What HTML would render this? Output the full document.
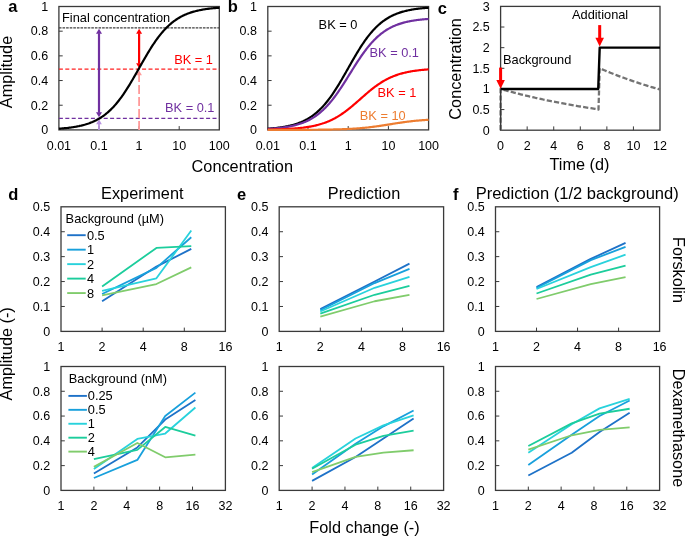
<!DOCTYPE html>
<html><head><meta charset="utf-8"><style>
html,body{margin:0;padding:0;background:#fff;overflow:hidden;}
svg{display:block;font-family:"Liberation Sans", sans-serif;will-change:transform;}
</style></head><body>
<svg width="685" height="537" viewBox="0 0 685 537">
<rect width="685" height="537" fill="#fff"/>
<rect x="58.90" y="6.50" width="160.40" height="123.40" fill="none" stroke="#3a3a3a" stroke-width="1.3"/>
<line x1="58.90" y1="27.90" x2="219.30" y2="27.90" stroke="#404040" stroke-width="1.4" stroke-dasharray="2.6,1.0"/>
<line x1="58.90" y1="69.20" x2="219.30" y2="69.20" stroke="#ff2020" stroke-width="1.3" stroke-dasharray="4,2.4"/>
<line x1="58.90" y1="118.30" x2="219.30" y2="118.30" stroke="#7030a0" stroke-width="1.3" stroke-dasharray="4,2.4"/>
<text x="48.10" y="134.20" font-size="12.5" text-anchor="end" fill="#000" >0</text>
<line x1="58.90" y1="105.22" x2="62.70" y2="105.22" stroke="#3a3a3a" stroke-width="1" />
<text x="48.10" y="109.52" font-size="12.5" text-anchor="end" fill="#000" >0.2</text>
<line x1="58.90" y1="80.54" x2="62.70" y2="80.54" stroke="#3a3a3a" stroke-width="1" />
<text x="48.10" y="84.84" font-size="12.5" text-anchor="end" fill="#000" >0.4</text>
<line x1="58.90" y1="55.86" x2="62.70" y2="55.86" stroke="#3a3a3a" stroke-width="1" />
<text x="48.10" y="60.16" font-size="12.5" text-anchor="end" fill="#000" >0.6</text>
<line x1="58.90" y1="31.18" x2="62.70" y2="31.18" stroke="#3a3a3a" stroke-width="1" />
<text x="48.10" y="35.48" font-size="12.5" text-anchor="end" fill="#000" >0.8</text>
<text x="48.10" y="10.80" font-size="12.5" text-anchor="end" fill="#000" >1</text>
<text x="58.90" y="149.50" font-size="12.5" text-anchor="middle" fill="#000" >0.01</text>
<line x1="99.00" y1="129.90" x2="99.00" y2="126.10" stroke="#3a3a3a" stroke-width="1" />
<text x="99.00" y="149.50" font-size="12.5" text-anchor="middle" fill="#000" >0.1</text>
<line x1="139.10" y1="129.90" x2="139.10" y2="126.10" stroke="#3a3a3a" stroke-width="1" />
<text x="139.10" y="149.50" font-size="12.5" text-anchor="middle" fill="#000" >1</text>
<line x1="179.20" y1="129.90" x2="179.20" y2="126.10" stroke="#3a3a3a" stroke-width="1" />
<text x="179.20" y="149.50" font-size="12.5" text-anchor="middle" fill="#000" >10</text>
<text x="219.30" y="149.50" font-size="12.5" text-anchor="middle" fill="#000" >100</text>
<line x1="139.10" y1="129.90" x2="139.10" y2="74.20" stroke="#ff9a9a" stroke-width="1.8" stroke-dasharray="9,3"/>
<polygon points="139.10,70.40 136.30,75.20 141.90,75.20" fill="#ff9a9a"/>
<line x1="99.00" y1="129.90" x2="99.00" y2="123.80" stroke="#b894e0" stroke-width="1.8" />
<polygon points="99.00,119.30 96.20,124.30 101.80,124.30" fill="#b894e0"/>
<line x1="139.10" y1="33.20" x2="139.10" y2="63.70" stroke="#ff0000" stroke-width="2.2" />
<polygon points="139.10,28.70 136.10,33.70 142.10,33.70" fill="#ff0000"/>
<polygon points="139.10,68.20 136.10,63.20 142.10,63.20" fill="#ff0000"/>
<line x1="99.00" y1="33.20" x2="99.00" y2="112.80" stroke="#7030a0" stroke-width="2.2" />
<polygon points="99.00,28.70 96.00,33.70 102.00,33.70" fill="#7030a0"/>
<polygon points="99.00,117.30 96.00,112.30 102.00,112.30" fill="#7030a0"/>
<polyline points="58.90,128.68 59.70,128.62 60.50,128.56 61.31,128.50 62.11,128.43 62.91,128.37 63.71,128.29 64.51,128.22 65.32,128.14 66.12,128.06 66.92,127.97 67.72,127.89 68.52,127.79 69.33,127.69 70.13,127.59 70.93,127.49 71.73,127.37 72.53,127.26 73.34,127.14 74.14,127.01 74.94,126.88 75.74,126.74 76.54,126.59 77.35,126.44 78.15,126.28 78.95,126.12 79.75,125.94 80.55,125.76 81.36,125.58 82.16,125.38 82.96,125.18 83.76,124.96 84.56,124.74 85.37,124.51 86.17,124.26 86.97,124.01 87.77,123.75 88.57,123.47 89.38,123.19 90.18,122.89 90.98,122.58 91.78,122.25 92.58,121.92 93.39,121.56 94.19,121.20 94.99,120.82 95.79,120.42 96.59,120.01 97.40,119.59 98.20,119.14 99.00,118.68 99.80,118.20 100.60,117.71 101.41,117.19 102.21,116.66 103.01,116.10 103.81,115.53 104.61,114.93 105.42,114.32 106.22,113.68 107.02,113.02 107.82,112.34 108.62,111.63 109.43,110.90 110.23,110.15 111.03,109.37 111.83,108.57 112.63,107.75 113.44,106.90 114.24,106.03 115.04,105.13 115.84,104.20 116.64,103.25 117.45,102.28 118.25,101.28 119.05,100.25 119.85,99.20 120.65,98.13 121.46,97.03 122.26,95.91 123.06,94.76 123.86,93.59 124.66,92.40 125.47,91.19 126.27,89.96 127.07,88.70 127.87,87.43 128.67,86.14 129.48,84.83 130.28,83.50 131.08,82.16 131.88,80.81 132.68,79.44 133.49,78.06 134.29,76.67 135.09,75.27 135.89,73.87 136.69,72.46 137.50,71.04 138.30,69.62 139.10,68.20 139.90,66.78 140.70,65.36 141.51,63.94 142.31,62.53 143.11,61.13 143.91,59.73 144.71,58.34 145.52,56.96 146.32,55.59 147.12,54.24 147.92,52.90 148.72,51.57 149.53,50.26 150.33,48.97 151.13,47.70 151.93,46.44 152.73,45.21 153.54,44.00 154.34,42.81 155.14,41.64 155.94,40.49 156.74,39.37 157.55,38.27 158.35,37.20 159.15,36.15 159.95,35.12 160.75,34.12 161.56,33.15 162.36,32.20 163.16,31.27 163.96,30.37 164.76,29.50 165.57,28.65 166.37,27.83 167.17,27.03 167.97,26.25 168.77,25.50 169.58,24.77 170.38,24.06 171.18,23.38 171.98,22.72 172.78,22.08 173.59,21.47 174.39,20.87 175.19,20.30 175.99,19.74 176.79,19.21 177.60,18.69 178.40,18.20 179.20,17.72 180.00,17.26 180.80,16.81 181.61,16.39 182.41,15.98 183.21,15.58 184.01,15.20 184.81,14.84 185.62,14.48 186.42,14.15 187.22,13.82 188.02,13.51 188.82,13.21 189.63,12.93 190.43,12.65 191.23,12.39 192.03,12.14 192.83,11.89 193.64,11.66 194.44,11.44 195.24,11.22 196.04,11.02 196.84,10.82 197.65,10.64 198.45,10.46 199.25,10.28 200.05,10.12 200.85,9.96 201.66,9.81 202.46,9.66 203.26,9.52 204.06,9.39 204.86,9.26 205.67,9.14 206.47,9.03 207.27,8.91 208.07,8.81 208.87,8.71 209.68,8.61 210.48,8.51 211.28,8.43 212.08,8.34 212.88,8.26 213.69,8.18 214.49,8.11 215.29,8.03 216.09,7.97 216.89,7.90 217.70,7.84 218.50,7.78 219.30,7.72" fill="none" stroke="#000" stroke-width="2.2" stroke-linejoin="round" />
<text x="62.00" y="22.00" font-size="12.8" text-anchor="start" fill="#000" >Final concentration</text>
<text x="213.00" y="64.40" font-size="12.8" text-anchor="end" fill="#ff0000" >BK = 1</text>
<text x="214.50" y="112.00" font-size="12.8" text-anchor="end" fill="#7030a0" >BK = 0.1</text>
<text x="8.20" y="11.50" font-size="16.5" text-anchor="start" fill="#000" font-weight="bold" >a</text>
<text x="12.00" y="72.00" font-size="16.3" text-anchor="middle" fill="#000" transform="rotate(-90 12 72)">Amplitude</text>
<rect x="267.80" y="6.50" width="160.80" height="123.40" fill="none" stroke="#3a3a3a" stroke-width="1.3"/>
<text x="257.00" y="134.20" font-size="12.5" text-anchor="end" fill="#000" >0</text>
<line x1="267.80" y1="105.22" x2="271.60" y2="105.22" stroke="#3a3a3a" stroke-width="1" />
<text x="257.00" y="109.52" font-size="12.5" text-anchor="end" fill="#000" >0.2</text>
<line x1="267.80" y1="80.54" x2="271.60" y2="80.54" stroke="#3a3a3a" stroke-width="1" />
<text x="257.00" y="84.84" font-size="12.5" text-anchor="end" fill="#000" >0.4</text>
<line x1="267.80" y1="55.86" x2="271.60" y2="55.86" stroke="#3a3a3a" stroke-width="1" />
<text x="257.00" y="60.16" font-size="12.5" text-anchor="end" fill="#000" >0.6</text>
<line x1="267.80" y1="31.18" x2="271.60" y2="31.18" stroke="#3a3a3a" stroke-width="1" />
<text x="257.00" y="35.48" font-size="12.5" text-anchor="end" fill="#000" >0.8</text>
<text x="257.00" y="10.80" font-size="12.5" text-anchor="end" fill="#000" >1</text>
<text x="267.80" y="149.50" font-size="12.5" text-anchor="middle" fill="#000" >0.01</text>
<line x1="308.00" y1="129.90" x2="308.00" y2="126.10" stroke="#3a3a3a" stroke-width="1" />
<text x="308.00" y="149.50" font-size="12.5" text-anchor="middle" fill="#000" >0.1</text>
<line x1="348.20" y1="129.90" x2="348.20" y2="126.10" stroke="#3a3a3a" stroke-width="1" />
<text x="348.20" y="149.50" font-size="12.5" text-anchor="middle" fill="#000" >1</text>
<line x1="388.40" y1="129.90" x2="388.40" y2="126.10" stroke="#3a3a3a" stroke-width="1" />
<text x="388.40" y="149.50" font-size="12.5" text-anchor="middle" fill="#000" >10</text>
<text x="428.60" y="149.50" font-size="12.5" text-anchor="middle" fill="#000" >100</text>
<polyline points="267.80,128.68 268.60,128.62 269.41,128.56 270.21,128.50 271.02,128.43 271.82,128.37 272.62,128.29 273.43,128.22 274.23,128.14 275.04,128.06 275.84,127.97 276.64,127.89 277.45,127.79 278.25,127.69 279.06,127.59 279.86,127.49 280.66,127.37 281.47,127.26 282.27,127.14 283.08,127.01 283.88,126.88 284.68,126.74 285.49,126.59 286.29,126.44 287.10,126.28 287.90,126.12 288.70,125.94 289.51,125.76 290.31,125.58 291.12,125.38 291.92,125.18 292.72,124.96 293.53,124.74 294.33,124.51 295.14,124.26 295.94,124.01 296.74,123.75 297.55,123.47 298.35,123.19 299.16,122.89 299.96,122.58 300.76,122.25 301.57,121.92 302.37,121.56 303.18,121.20 303.98,120.82 304.78,120.42 305.59,120.01 306.39,119.59 307.20,119.14 308.00,118.68 308.80,118.20 309.61,117.71 310.41,117.19 311.22,116.66 312.02,116.10 312.82,115.53 313.63,114.93 314.43,114.32 315.24,113.68 316.04,113.02 316.84,112.34 317.65,111.63 318.45,110.90 319.26,110.15 320.06,109.37 320.86,108.57 321.67,107.75 322.47,106.90 323.28,106.03 324.08,105.13 324.88,104.20 325.69,103.25 326.49,102.28 327.30,101.28 328.10,100.25 328.90,99.20 329.71,98.13 330.51,97.03 331.32,95.91 332.12,94.76 332.92,93.59 333.73,92.40 334.53,91.19 335.34,89.96 336.14,88.70 336.94,87.43 337.75,86.14 338.55,84.83 339.36,83.50 340.16,82.16 340.96,80.81 341.77,79.44 342.57,78.06 343.38,76.67 344.18,75.27 344.98,73.87 345.79,72.46 346.59,71.04 347.40,69.62 348.20,68.20 349.00,66.78 349.81,65.36 350.61,63.94 351.42,62.53 352.22,61.13 353.02,59.73 353.83,58.34 354.63,56.96 355.44,55.59 356.24,54.24 357.04,52.90 357.85,51.57 358.65,50.26 359.46,48.97 360.26,47.70 361.06,46.44 361.87,45.21 362.67,44.00 363.48,42.81 364.28,41.64 365.08,40.49 365.89,39.37 366.69,38.27 367.50,37.20 368.30,36.15 369.10,35.12 369.91,34.12 370.71,33.15 371.52,32.20 372.32,31.27 373.12,30.37 373.93,29.50 374.73,28.65 375.54,27.83 376.34,27.03 377.14,26.25 377.95,25.50 378.75,24.77 379.56,24.06 380.36,23.38 381.16,22.72 381.97,22.08 382.77,21.47 383.58,20.87 384.38,20.30 385.18,19.74 385.99,19.21 386.79,18.69 387.60,18.20 388.40,17.72 389.20,17.26 390.01,16.81 390.81,16.39 391.62,15.98 392.42,15.58 393.22,15.20 394.03,14.84 394.83,14.48 395.64,14.15 396.44,13.82 397.24,13.51 398.05,13.21 398.85,12.93 399.66,12.65 400.46,12.39 401.26,12.14 402.07,11.89 402.87,11.66 403.68,11.44 404.48,11.22 405.28,11.02 406.09,10.82 406.89,10.64 407.70,10.46 408.50,10.28 409.30,10.12 410.11,9.96 410.91,9.81 411.72,9.66 412.52,9.52 413.32,9.39 414.13,9.26 414.93,9.14 415.74,9.03 416.54,8.91 417.34,8.81 418.15,8.71 418.95,8.61 419.76,8.51 420.56,8.43 421.36,8.34 422.17,8.26 422.97,8.18 423.78,8.11 424.58,8.03 425.38,7.97 426.19,7.90 426.99,7.84 427.80,7.78 428.60,7.72" fill="none" stroke="#000" stroke-width="2.2" stroke-linejoin="round" />
<polyline points="267.80,128.89 268.60,128.84 269.41,128.79 270.21,128.74 271.02,128.69 271.82,128.63 272.62,128.57 273.43,128.51 274.23,128.45 275.04,128.38 275.84,128.31 276.64,128.23 277.45,128.16 278.25,128.07 279.06,127.99 279.86,127.90 280.66,127.81 281.47,127.71 282.27,127.61 283.08,127.51 283.88,127.40 284.68,127.28 285.49,127.16 286.29,127.03 287.10,126.90 287.90,126.77 288.70,126.62 289.51,126.47 290.31,126.32 291.12,126.15 291.92,125.98 292.72,125.80 293.53,125.62 294.33,125.42 295.14,125.22 295.94,125.01 296.74,124.79 297.55,124.56 298.35,124.32 299.16,124.07 299.96,123.81 300.76,123.54 301.57,123.26 302.37,122.97 303.18,122.66 303.98,122.34 304.78,122.01 305.59,121.67 306.39,121.31 307.20,120.94 308.00,120.55 308.80,120.15 309.61,119.73 310.41,119.30 311.22,118.85 312.02,118.38 312.82,117.89 313.63,117.39 314.43,116.87 315.24,116.33 316.04,115.77 316.84,115.19 317.65,114.60 318.45,113.98 319.26,113.34 320.06,112.68 320.86,111.99 321.67,111.29 322.47,110.56 323.28,109.82 324.08,109.05 324.88,108.25 325.69,107.44 326.49,106.60 327.30,105.74 328.10,104.85 328.90,103.94 329.71,103.01 330.51,102.06 331.32,101.09 332.12,100.09 332.92,99.07 333.73,98.03 334.53,96.97 335.34,95.89 336.14,94.79 336.94,93.67 337.75,92.53 338.55,91.37 339.36,90.20 340.16,89.01 340.96,87.80 341.77,86.59 342.57,85.36 343.38,84.11 344.18,82.86 344.98,81.60 345.79,80.33 346.59,79.05 347.40,77.77 348.20,76.48 349.00,75.19 349.81,73.90 350.61,72.61 351.42,71.32 352.22,70.03 353.02,68.75 353.83,67.47 354.63,66.20 355.44,64.93 356.24,63.68 357.04,62.44 357.85,61.20 358.65,59.98 359.46,58.78 360.26,57.59 361.06,56.41 361.87,55.25 362.67,54.11 363.48,52.99 364.28,51.88 365.08,50.80 365.89,49.73 366.69,48.69 367.50,47.67 368.30,46.67 369.10,45.69 369.91,44.74 370.71,43.80 371.52,42.89 372.32,42.00 373.12,41.14 373.93,40.30 374.73,39.48 375.54,38.68 376.34,37.91 377.14,37.16 377.95,36.43 378.75,35.72 379.56,35.04 380.36,34.37 381.16,33.73 381.97,33.11 382.77,32.51 383.58,31.93 384.38,31.36 385.18,30.82 385.99,30.30 386.79,29.79 387.60,29.31 388.40,28.84 389.20,28.38 390.01,27.95 390.81,27.53 391.62,27.12 392.42,26.73 393.22,26.36 394.03,26.00 394.83,25.65 395.64,25.32 396.44,25.00 397.24,24.69 398.05,24.40 398.85,24.11 399.66,23.84 400.46,23.58 401.26,23.33 402.07,23.09 402.87,22.86 403.68,22.64 404.48,22.42 405.28,22.22 406.09,22.03 406.89,21.84 407.70,21.66 408.50,21.49 409.30,21.32 410.11,21.17 410.91,21.02 411.72,20.87 412.52,20.73 413.32,20.60 414.13,20.48 414.93,20.35 415.74,20.24 416.54,20.13 417.34,20.02 418.15,19.92 418.95,19.82 419.76,19.73 420.56,19.64 421.36,19.56 422.17,19.47 422.97,19.40 423.78,19.32 424.58,19.25 425.38,19.18 426.19,19.12 426.99,19.06 427.80,19.00 428.60,18.94" fill="none" stroke="#7030a0" stroke-width="2.2" stroke-linejoin="round" />
<polyline points="267.80,129.59 268.60,129.58 269.41,129.56 270.21,129.55 271.02,129.53 271.82,129.51 272.62,129.50 273.43,129.48 274.23,129.46 275.04,129.44 275.84,129.41 276.64,129.39 277.45,129.37 278.25,129.34 279.06,129.32 279.86,129.29 280.66,129.26 281.47,129.23 282.27,129.20 283.08,129.17 283.88,129.13 284.68,129.10 285.49,129.06 286.29,129.02 287.10,128.98 287.90,128.94 288.70,128.90 289.51,128.85 290.31,128.80 291.12,128.75 291.92,128.70 292.72,128.64 293.53,128.58 294.33,128.52 295.14,128.46 295.94,128.39 296.74,128.32 297.55,128.25 298.35,128.17 299.16,128.10 299.96,128.01 300.76,127.93 301.57,127.84 302.37,127.74 303.18,127.65 303.98,127.54 304.78,127.44 305.59,127.33 306.39,127.21 307.20,127.09 308.00,126.96 308.80,126.83 309.61,126.69 310.41,126.55 311.22,126.40 312.02,126.25 312.82,126.08 313.63,125.92 314.43,125.74 315.24,125.56 316.04,125.37 316.84,125.17 317.65,124.97 318.45,124.75 319.26,124.53 320.06,124.30 320.86,124.06 321.67,123.82 322.47,123.56 323.28,123.29 324.08,123.02 324.88,122.73 325.69,122.43 326.49,122.12 327.30,121.81 328.10,121.48 328.90,121.14 329.71,120.78 330.51,120.42 331.32,120.04 332.12,119.66 332.92,119.26 333.73,118.85 334.53,118.42 335.34,117.99 336.14,117.54 336.94,117.08 337.75,116.60 338.55,116.11 339.36,115.61 340.16,115.10 340.96,114.58 341.77,114.04 342.57,113.49 343.38,112.93 344.18,112.36 344.98,111.78 345.79,111.18 346.59,110.58 347.40,109.96 348.20,109.33 349.00,108.70 349.81,108.05 350.61,107.40 351.42,106.74 352.22,106.07 353.02,105.39 353.83,104.70 354.63,104.02 355.44,103.32 356.24,102.62 357.04,101.92 357.85,101.21 358.65,100.51 359.46,99.80 360.26,99.09 361.06,98.38 361.87,97.67 362.67,96.96 363.48,96.25 364.28,95.55 365.08,94.85 365.89,94.16 366.69,93.47 367.50,92.78 368.30,92.10 369.10,91.43 369.91,90.77 370.71,90.12 371.52,89.47 372.32,88.83 373.12,88.20 373.93,87.59 374.73,86.98 375.54,86.38 376.34,85.80 377.14,85.23 377.95,84.66 378.75,84.11 379.56,83.58 380.36,83.05 381.16,82.54 381.97,82.04 382.77,81.55 383.58,81.07 384.38,80.61 385.18,80.16 385.99,79.72 386.79,79.30 387.60,78.88 388.40,78.48 389.20,78.09 390.01,77.72 390.81,77.35 391.62,77.00 392.42,76.66 393.22,76.33 394.03,76.01 394.83,75.70 395.64,75.40 396.44,75.11 397.24,74.84 398.05,74.57 398.85,74.31 399.66,74.06 400.46,73.82 401.26,73.59 402.07,73.37 402.87,73.15 403.68,72.95 404.48,72.75 405.28,72.56 406.09,72.38 406.89,72.20 407.70,72.03 408.50,71.87 409.30,71.71 410.11,71.56 410.91,71.42 411.72,71.28 412.52,71.15 413.32,71.02 414.13,70.90 414.93,70.79 415.74,70.67 416.54,70.57 417.34,70.47 418.15,70.37 418.95,70.27 419.76,70.18 420.56,70.10 421.36,70.01 422.17,69.93 422.97,69.86 423.78,69.78 424.58,69.72 425.38,69.65 426.19,69.59 426.99,69.52 427.80,69.47 428.60,69.41" fill="none" stroke="#ff0000" stroke-width="2.2" stroke-linejoin="round" />
<polyline points="267.80,129.89 268.60,129.89 269.41,129.89 270.21,129.89 271.02,129.89 271.82,129.89 272.62,129.89 273.43,129.89 274.23,129.89 275.04,129.88 275.84,129.88 276.64,129.88 277.45,129.88 278.25,129.88 279.06,129.88 279.86,129.88 280.66,129.88 281.47,129.88 282.27,129.88 283.08,129.88 283.88,129.87 284.68,129.87 285.49,129.87 286.29,129.87 287.10,129.87 287.90,129.87 288.70,129.87 289.51,129.86 290.31,129.86 291.12,129.86 291.92,129.86 292.72,129.86 293.53,129.86 294.33,129.85 295.14,129.85 295.94,129.85 296.74,129.85 297.55,129.84 298.35,129.84 299.16,129.84 299.96,129.84 300.76,129.83 301.57,129.83 302.37,129.83 303.18,129.82 303.98,129.82 304.78,129.82 305.59,129.81 306.39,129.81 307.20,129.80 308.00,129.80 308.80,129.79 309.61,129.79 310.41,129.78 311.22,129.78 312.02,129.77 312.82,129.77 313.63,129.76 314.43,129.75 315.24,129.75 316.04,129.74 316.84,129.73 317.65,129.73 318.45,129.72 319.26,129.71 320.06,129.70 320.86,129.69 321.67,129.68 322.47,129.67 323.28,129.66 324.08,129.65 324.88,129.64 325.69,129.63 326.49,129.61 327.30,129.60 328.10,129.59 328.90,129.57 329.71,129.56 330.51,129.54 331.32,129.53 332.12,129.51 332.92,129.49 333.73,129.47 334.53,129.45 335.34,129.43 336.14,129.41 336.94,129.39 337.75,129.37 338.55,129.34 339.36,129.32 340.16,129.29 340.96,129.26 341.77,129.24 342.57,129.21 343.38,129.18 344.18,129.14 344.98,129.11 345.79,129.08 346.59,129.04 347.40,129.00 348.20,128.97 349.00,128.92 349.81,128.88 350.61,128.84 351.42,128.79 352.22,128.75 353.02,128.70 353.83,128.65 354.63,128.60 355.44,128.54 356.24,128.49 357.04,128.43 357.85,128.37 358.65,128.31 359.46,128.24 360.26,128.18 361.06,128.11 361.87,128.04 362.67,127.97 363.48,127.89 364.28,127.81 365.08,127.74 365.89,127.65 366.69,127.57 367.50,127.48 368.30,127.40 369.10,127.30 369.91,127.21 370.71,127.12 371.52,127.02 372.32,126.92 373.12,126.82 373.93,126.71 374.73,126.61 375.54,126.50 376.34,126.39 377.14,126.28 377.95,126.16 378.75,126.05 379.56,125.93 380.36,125.81 381.16,125.69 381.97,125.57 382.77,125.45 383.58,125.32 384.38,125.20 385.18,125.07 385.99,124.94 386.79,124.81 387.60,124.69 388.40,124.56 389.20,124.43 390.01,124.30 390.81,124.17 391.62,124.04 392.42,123.91 393.22,123.78 394.03,123.66 394.83,123.53 395.64,123.40 396.44,123.28 397.24,123.15 398.05,123.03 398.85,122.91 399.66,122.79 400.46,122.67 401.26,122.55 402.07,122.44 402.87,122.32 403.68,122.21 404.48,122.10 405.28,121.99 406.09,121.88 406.89,121.78 407.70,121.68 408.50,121.58 409.30,121.48 410.11,121.38 410.91,121.29 411.72,121.20 412.52,121.11 413.32,121.02 414.13,120.94 414.93,120.86 415.74,120.78 416.54,120.70 417.34,120.63 418.15,120.55 418.95,120.48 419.76,120.41 420.56,120.35 421.36,120.28 422.17,120.22 422.97,120.16 423.78,120.10 424.58,120.05 425.38,119.99 426.19,119.94 426.99,119.89 427.80,119.84 428.60,119.79" fill="none" stroke="#ed7d31" stroke-width="2.2" stroke-linejoin="round" />
<text x="318.60" y="28.70" font-size="12.8" text-anchor="start" fill="#000" >BK = 0</text>
<text x="419.00" y="56.50" font-size="12.8" text-anchor="end" fill="#7030a0" >BK = 0.1</text>
<text x="416.30" y="97.00" font-size="12.8" text-anchor="end" fill="#ff0000" >BK = 1</text>
<text x="405.70" y="120.20" font-size="12.8" text-anchor="end" fill="#ed7d31" >BK = 10</text>
<text x="227.70" y="11.50" font-size="16.5" text-anchor="start" fill="#000" font-weight="bold" >b</text>
<text x="242.30" y="172.00" font-size="16.3" text-anchor="middle" fill="#000" >Concentration</text>
<rect x="500.60" y="6.40" width="159.40" height="123.80" fill="none" stroke="#3a3a3a" stroke-width="1.3"/>
<text x="489.80" y="134.50" font-size="12.5" text-anchor="end" fill="#000" >0</text>
<line x1="500.60" y1="109.57" x2="504.40" y2="109.57" stroke="#3a3a3a" stroke-width="1" />
<text x="489.80" y="113.87" font-size="12.5" text-anchor="end" fill="#000" >0.5</text>
<line x1="500.60" y1="88.93" x2="504.40" y2="88.93" stroke="#3a3a3a" stroke-width="1" />
<text x="489.80" y="93.23" font-size="12.5" text-anchor="end" fill="#000" >1</text>
<line x1="500.60" y1="68.30" x2="504.40" y2="68.30" stroke="#3a3a3a" stroke-width="1" />
<text x="489.80" y="72.60" font-size="12.5" text-anchor="end" fill="#000" >1.5</text>
<line x1="500.60" y1="47.67" x2="504.40" y2="47.67" stroke="#3a3a3a" stroke-width="1" />
<text x="489.80" y="51.97" font-size="12.5" text-anchor="end" fill="#000" >2</text>
<line x1="500.60" y1="27.03" x2="504.40" y2="27.03" stroke="#3a3a3a" stroke-width="1" />
<text x="489.80" y="31.33" font-size="12.5" text-anchor="end" fill="#000" >2.5</text>
<text x="489.80" y="10.70" font-size="12.5" text-anchor="end" fill="#000" >3</text>
<text x="500.60" y="149.80" font-size="12.5" text-anchor="middle" fill="#000" >0</text>
<line x1="527.17" y1="130.20" x2="527.17" y2="126.40" stroke="#3a3a3a" stroke-width="1" />
<text x="527.17" y="149.80" font-size="12.5" text-anchor="middle" fill="#000" >2</text>
<line x1="553.73" y1="130.20" x2="553.73" y2="126.40" stroke="#3a3a3a" stroke-width="1" />
<text x="553.73" y="149.80" font-size="12.5" text-anchor="middle" fill="#000" >4</text>
<line x1="580.30" y1="130.20" x2="580.30" y2="126.40" stroke="#3a3a3a" stroke-width="1" />
<text x="580.30" y="149.80" font-size="12.5" text-anchor="middle" fill="#000" >6</text>
<line x1="606.87" y1="130.20" x2="606.87" y2="126.40" stroke="#3a3a3a" stroke-width="1" />
<text x="606.87" y="149.80" font-size="12.5" text-anchor="middle" fill="#000" >8</text>
<line x1="633.43" y1="130.20" x2="633.43" y2="126.40" stroke="#3a3a3a" stroke-width="1" />
<text x="633.43" y="149.80" font-size="12.5" text-anchor="middle" fill="#000" >10</text>
<text x="660.00" y="149.80" font-size="12.5" text-anchor="middle" fill="#000" >12</text>
<polyline points="500.60,130.20 500.60,88.93 500.60,88.93 501.93,89.31 503.26,89.69 504.59,90.06 505.91,90.43 507.24,90.80 508.57,91.16 509.90,91.52 511.23,91.87 512.56,92.23 513.88,92.58 515.21,92.92 516.54,93.27 517.87,93.61 519.20,93.94 520.52,94.28 521.85,94.61 523.18,94.93 524.51,95.26 525.84,95.58 527.17,95.90 528.50,96.21 529.82,96.53 531.15,96.84 532.48,97.14 533.81,97.45 535.14,97.75 536.47,98.05 537.79,98.34 539.12,98.64 540.45,98.93 541.78,99.21 543.11,99.50 544.44,99.78 545.76,100.06 547.09,100.34 548.42,100.61 549.75,100.88 551.08,101.15 552.40,101.42 553.73,101.69 555.06,101.95 556.39,102.21 557.72,102.47 559.05,102.72 560.38,102.97 561.70,103.22 563.03,103.47 564.36,103.72 565.69,103.96 567.02,104.20 568.35,104.44 569.67,104.68 571.00,104.91 572.33,105.15 573.66,105.38 574.99,105.61 576.32,105.83 577.64,106.06 578.97,106.28 580.30,106.50 581.63,106.72 582.96,106.93 584.28,107.15 585.61,107.36 586.94,107.57 588.27,107.78 589.60,107.98 590.93,108.19 592.25,108.39 593.58,108.59 594.91,108.79 596.24,108.99 597.57,109.18 598.50,109.57 599.69,68.30 601.02,68.87 602.35,69.43 603.68,69.99 605.01,70.55 606.34,71.10 607.66,71.64 608.99,72.18 610.32,72.71 611.65,73.24 612.98,73.76 614.31,74.28 615.63,74.80 616.96,75.31 618.29,75.81 619.62,76.31 620.95,76.81 622.28,77.30 623.60,77.79 624.93,78.27 626.26,78.75 627.59,79.22 628.92,79.69 630.25,80.15 631.57,80.61 632.90,81.07 634.23,81.52 635.56,81.97 636.89,82.41 638.22,82.85 639.54,83.29 640.87,83.72 642.20,84.15 643.53,84.57 644.86,84.99 646.19,85.41 647.51,85.82 648.84,86.23 650.17,86.63 651.50,87.03 652.83,87.43 654.16,87.82 655.48,88.21 656.81,88.60 658.14,88.98 659.47,89.36 660.00,89.51" fill="none" stroke="#737373" stroke-width="2.3" stroke-linejoin="round" stroke-dasharray="5.2,2.2"/>
<polyline points="500.60,88.93 598.23,88.93 599.69,47.67 660.00,47.67" fill="none" stroke="#000" stroke-width="2.4" stroke-linejoin="round" />
<line x1="500.60" y1="130.20" x2="500.60" y2="88.93" stroke="#3a3a3a" stroke-width="1.2" />
<line x1="500.60" y1="67.60" x2="500.60" y2="81.03" stroke="#ff0000" stroke-width="3" />
<polygon points="500.60,88.73 496.30,80.03 504.90,80.03" fill="#ff0000"/>
<line x1="599.69" y1="25.10" x2="599.69" y2="38.77" stroke="#ff0000" stroke-width="3" />
<polygon points="599.69,46.47 595.39,37.77 603.99,37.77" fill="#ff0000"/>
<text x="503.00" y="63.80" font-size="12.8" text-anchor="start" fill="#000" >Background</text>
<text x="572.00" y="19.00" font-size="12.8" text-anchor="start" fill="#000" >Additional</text>
<text x="461.00" y="69.00" font-size="16.3" text-anchor="middle" fill="#000" transform="rotate(-90 461 69)">Concentration</text>
<text x="579.50" y="169.80" font-size="16.3" text-anchor="middle" fill="#000" >Time (d)</text>
<text x="437.80" y="13.80" font-size="16.5" text-anchor="start" fill="#000" font-weight="bold" >c</text>
<rect x="61.00" y="206.80" width="164.40" height="124.60" fill="none" stroke="#3a3a3a" stroke-width="1.3"/>
<text x="50.20" y="335.70" font-size="12.5" text-anchor="end" fill="#000" >0</text>
<line x1="61.00" y1="306.48" x2="64.80" y2="306.48" stroke="#3a3a3a" stroke-width="1" />
<text x="50.20" y="310.78" font-size="12.5" text-anchor="end" fill="#000" >0.1</text>
<line x1="61.00" y1="281.56" x2="64.80" y2="281.56" stroke="#3a3a3a" stroke-width="1" />
<text x="50.20" y="285.86" font-size="12.5" text-anchor="end" fill="#000" >0.2</text>
<line x1="61.00" y1="256.64" x2="64.80" y2="256.64" stroke="#3a3a3a" stroke-width="1" />
<text x="50.20" y="260.94" font-size="12.5" text-anchor="end" fill="#000" >0.3</text>
<line x1="61.00" y1="231.72" x2="64.80" y2="231.72" stroke="#3a3a3a" stroke-width="1" />
<text x="50.20" y="236.02" font-size="12.5" text-anchor="end" fill="#000" >0.4</text>
<text x="50.20" y="211.10" font-size="12.5" text-anchor="end" fill="#000" >0.5</text>
<text x="61.00" y="351.00" font-size="12.5" text-anchor="middle" fill="#000" >1</text>
<line x1="102.10" y1="331.40" x2="102.10" y2="327.60" stroke="#3a3a3a" stroke-width="1" />
<text x="102.10" y="351.00" font-size="12.5" text-anchor="middle" fill="#000" >2</text>
<line x1="143.20" y1="331.40" x2="143.20" y2="327.60" stroke="#3a3a3a" stroke-width="1" />
<text x="143.20" y="351.00" font-size="12.5" text-anchor="middle" fill="#000" >4</text>
<line x1="184.30" y1="331.40" x2="184.30" y2="327.60" stroke="#3a3a3a" stroke-width="1" />
<text x="184.30" y="351.00" font-size="12.5" text-anchor="middle" fill="#000" >8</text>
<text x="225.40" y="351.00" font-size="12.5" text-anchor="middle" fill="#000" >16</text>
<polyline points="102.10,301.25 156.43,266.61 191.28,248.91" fill="none" stroke="#1e72c8" stroke-width="1.8" stroke-linejoin="round" />
<polyline points="102.10,294.02 156.43,267.85 191.28,237.20" fill="none" stroke="#18a0dc" stroke-width="1.8" stroke-linejoin="round" />
<polyline points="102.10,290.78 156.43,278.32 191.28,230.47" fill="none" stroke="#28d2dc" stroke-width="1.8" stroke-linejoin="round" />
<polyline points="102.10,286.54 156.43,247.92 191.28,246.17" fill="none" stroke="#1ccd9c" stroke-width="1.8" stroke-linejoin="round" />
<polyline points="102.10,295.27 156.43,284.05 191.28,267.36" fill="none" stroke="#80cc6c" stroke-width="1.8" stroke-linejoin="round" />
<rect x="61.00" y="366.50" width="164.40" height="123.90" fill="none" stroke="#3a3a3a" stroke-width="1.3"/>
<text x="50.20" y="494.70" font-size="12.5" text-anchor="end" fill="#000" >0</text>
<line x1="61.00" y1="465.62" x2="64.80" y2="465.62" stroke="#3a3a3a" stroke-width="1" />
<text x="50.20" y="469.92" font-size="12.5" text-anchor="end" fill="#000" >0.2</text>
<line x1="61.00" y1="440.84" x2="64.80" y2="440.84" stroke="#3a3a3a" stroke-width="1" />
<text x="50.20" y="445.14" font-size="12.5" text-anchor="end" fill="#000" >0.4</text>
<line x1="61.00" y1="416.06" x2="64.80" y2="416.06" stroke="#3a3a3a" stroke-width="1" />
<text x="50.20" y="420.36" font-size="12.5" text-anchor="end" fill="#000" >0.6</text>
<line x1="61.00" y1="391.28" x2="64.80" y2="391.28" stroke="#3a3a3a" stroke-width="1" />
<text x="50.20" y="395.58" font-size="12.5" text-anchor="end" fill="#000" >0.8</text>
<text x="50.20" y="370.80" font-size="12.5" text-anchor="end" fill="#000" >1</text>
<text x="61.00" y="510.00" font-size="12.5" text-anchor="middle" fill="#000" >1</text>
<line x1="93.88" y1="490.40" x2="93.88" y2="486.60" stroke="#3a3a3a" stroke-width="1" />
<text x="93.88" y="510.00" font-size="12.5" text-anchor="middle" fill="#000" >2</text>
<line x1="126.76" y1="490.40" x2="126.76" y2="486.60" stroke="#3a3a3a" stroke-width="1" />
<text x="126.76" y="510.00" font-size="12.5" text-anchor="middle" fill="#000" >4</text>
<line x1="159.64" y1="490.40" x2="159.64" y2="486.60" stroke="#3a3a3a" stroke-width="1" />
<text x="159.64" y="510.00" font-size="12.5" text-anchor="middle" fill="#000" >8</text>
<line x1="192.52" y1="490.40" x2="192.52" y2="486.60" stroke="#3a3a3a" stroke-width="1" />
<text x="192.52" y="510.00" font-size="12.5" text-anchor="middle" fill="#000" >16</text>
<text x="225.40" y="510.00" font-size="12.5" text-anchor="middle" fill="#000" >32</text>
<polyline points="93.88,473.55 137.34,447.41 165.23,419.53 195.40,399.95" fill="none" stroke="#1e72c8" stroke-width="1.8" stroke-linejoin="round" />
<polyline points="93.88,478.01 137.34,459.92 165.23,416.06 195.40,392.64" fill="none" stroke="#18a0dc" stroke-width="1.8" stroke-linejoin="round" />
<polyline points="93.88,468.97 137.34,438.98 165.23,433.53 195.40,407.51" fill="none" stroke="#28d2dc" stroke-width="1.8" stroke-linejoin="round" />
<polyline points="93.88,459.05 137.34,449.88 165.23,426.96 195.40,435.64" fill="none" stroke="#1ccd9c" stroke-width="1.8" stroke-linejoin="round" />
<polyline points="93.88,466.86 137.34,442.95 165.23,457.32 195.40,454.72" fill="none" stroke="#80cc6c" stroke-width="1.8" stroke-linejoin="round" />
<rect x="279.20" y="206.80" width="164.40" height="124.60" fill="none" stroke="#3a3a3a" stroke-width="1.3"/>
<text x="268.40" y="335.70" font-size="12.5" text-anchor="end" fill="#000" >0</text>
<line x1="279.20" y1="306.48" x2="283.00" y2="306.48" stroke="#3a3a3a" stroke-width="1" />
<text x="268.40" y="310.78" font-size="12.5" text-anchor="end" fill="#000" >0.1</text>
<line x1="279.20" y1="281.56" x2="283.00" y2="281.56" stroke="#3a3a3a" stroke-width="1" />
<text x="268.40" y="285.86" font-size="12.5" text-anchor="end" fill="#000" >0.2</text>
<line x1="279.20" y1="256.64" x2="283.00" y2="256.64" stroke="#3a3a3a" stroke-width="1" />
<text x="268.40" y="260.94" font-size="12.5" text-anchor="end" fill="#000" >0.3</text>
<line x1="279.20" y1="231.72" x2="283.00" y2="231.72" stroke="#3a3a3a" stroke-width="1" />
<text x="268.40" y="236.02" font-size="12.5" text-anchor="end" fill="#000" >0.4</text>
<text x="268.40" y="211.10" font-size="12.5" text-anchor="end" fill="#000" >0.5</text>
<text x="279.20" y="351.00" font-size="12.5" text-anchor="middle" fill="#000" >1</text>
<line x1="320.30" y1="331.40" x2="320.30" y2="327.60" stroke="#3a3a3a" stroke-width="1" />
<text x="320.30" y="351.00" font-size="12.5" text-anchor="middle" fill="#000" >2</text>
<line x1="361.40" y1="331.40" x2="361.40" y2="327.60" stroke="#3a3a3a" stroke-width="1" />
<text x="361.40" y="351.00" font-size="12.5" text-anchor="middle" fill="#000" >4</text>
<line x1="402.50" y1="331.40" x2="402.50" y2="327.60" stroke="#3a3a3a" stroke-width="1" />
<text x="402.50" y="351.00" font-size="12.5" text-anchor="middle" fill="#000" >8</text>
<text x="443.60" y="351.00" font-size="12.5" text-anchor="middle" fill="#000" >16</text>
<polyline points="320.30,308.97 374.63,281.56 409.48,263.62" fill="none" stroke="#1e72c8" stroke-width="1.8" stroke-linejoin="round" />
<polyline points="320.30,310.22 374.63,283.06 409.48,268.85" fill="none" stroke="#18a0dc" stroke-width="1.8" stroke-linejoin="round" />
<polyline points="320.30,311.46 374.63,287.79 409.48,276.83" fill="none" stroke="#28d2dc" stroke-width="1.8" stroke-linejoin="round" />
<polyline points="320.30,313.71 374.63,294.77 409.48,285.80" fill="none" stroke="#1ccd9c" stroke-width="1.8" stroke-linejoin="round" />
<polyline points="320.30,316.70 374.63,301.25 409.48,294.77" fill="none" stroke="#80cc6c" stroke-width="1.8" stroke-linejoin="round" />
<rect x="279.20" y="366.50" width="164.40" height="123.90" fill="none" stroke="#3a3a3a" stroke-width="1.3"/>
<text x="268.40" y="494.70" font-size="12.5" text-anchor="end" fill="#000" >0</text>
<line x1="279.20" y1="465.62" x2="283.00" y2="465.62" stroke="#3a3a3a" stroke-width="1" />
<text x="268.40" y="469.92" font-size="12.5" text-anchor="end" fill="#000" >0.2</text>
<line x1="279.20" y1="440.84" x2="283.00" y2="440.84" stroke="#3a3a3a" stroke-width="1" />
<text x="268.40" y="445.14" font-size="12.5" text-anchor="end" fill="#000" >0.4</text>
<line x1="279.20" y1="416.06" x2="283.00" y2="416.06" stroke="#3a3a3a" stroke-width="1" />
<text x="268.40" y="420.36" font-size="12.5" text-anchor="end" fill="#000" >0.6</text>
<line x1="279.20" y1="391.28" x2="283.00" y2="391.28" stroke="#3a3a3a" stroke-width="1" />
<text x="268.40" y="395.58" font-size="12.5" text-anchor="end" fill="#000" >0.8</text>
<text x="268.40" y="370.80" font-size="12.5" text-anchor="end" fill="#000" >1</text>
<text x="279.20" y="510.00" font-size="12.5" text-anchor="middle" fill="#000" >1</text>
<line x1="312.08" y1="490.40" x2="312.08" y2="486.60" stroke="#3a3a3a" stroke-width="1" />
<text x="312.08" y="510.00" font-size="12.5" text-anchor="middle" fill="#000" >2</text>
<line x1="344.96" y1="490.40" x2="344.96" y2="486.60" stroke="#3a3a3a" stroke-width="1" />
<text x="344.96" y="510.00" font-size="12.5" text-anchor="middle" fill="#000" >4</text>
<line x1="377.84" y1="490.40" x2="377.84" y2="486.60" stroke="#3a3a3a" stroke-width="1" />
<text x="377.84" y="510.00" font-size="12.5" text-anchor="middle" fill="#000" >8</text>
<line x1="410.72" y1="490.40" x2="410.72" y2="486.60" stroke="#3a3a3a" stroke-width="1" />
<text x="410.72" y="510.00" font-size="12.5" text-anchor="middle" fill="#000" >16</text>
<text x="443.60" y="510.00" font-size="12.5" text-anchor="middle" fill="#000" >32</text>
<polyline points="312.08,480.86 355.54,457.07 383.43,438.61 413.60,418.41" fill="none" stroke="#1e72c8" stroke-width="1.8" stroke-linejoin="round" />
<polyline points="312.08,474.42 355.54,443.81 383.43,426.34 413.60,410.48" fill="none" stroke="#18a0dc" stroke-width="1.8" stroke-linejoin="round" />
<polyline points="312.08,467.97 355.54,438.49 383.43,425.35 413.60,415.44" fill="none" stroke="#28d2dc" stroke-width="1.8" stroke-linejoin="round" />
<polyline points="312.08,468.72 355.54,444.68 383.43,435.88 413.60,430.68" fill="none" stroke="#1ccd9c" stroke-width="1.8" stroke-linejoin="round" />
<polyline points="312.08,472.19 355.54,456.95 383.43,452.61 413.60,450.26" fill="none" stroke="#80cc6c" stroke-width="1.8" stroke-linejoin="round" />
<rect x="495.50" y="206.80" width="164.10" height="124.60" fill="none" stroke="#3a3a3a" stroke-width="1.3"/>
<text x="484.70" y="335.70" font-size="12.5" text-anchor="end" fill="#000" >0</text>
<line x1="495.50" y1="306.48" x2="499.30" y2="306.48" stroke="#3a3a3a" stroke-width="1" />
<text x="484.70" y="310.78" font-size="12.5" text-anchor="end" fill="#000" >0.1</text>
<line x1="495.50" y1="281.56" x2="499.30" y2="281.56" stroke="#3a3a3a" stroke-width="1" />
<text x="484.70" y="285.86" font-size="12.5" text-anchor="end" fill="#000" >0.2</text>
<line x1="495.50" y1="256.64" x2="499.30" y2="256.64" stroke="#3a3a3a" stroke-width="1" />
<text x="484.70" y="260.94" font-size="12.5" text-anchor="end" fill="#000" >0.3</text>
<line x1="495.50" y1="231.72" x2="499.30" y2="231.72" stroke="#3a3a3a" stroke-width="1" />
<text x="484.70" y="236.02" font-size="12.5" text-anchor="end" fill="#000" >0.4</text>
<text x="484.70" y="211.10" font-size="12.5" text-anchor="end" fill="#000" >0.5</text>
<text x="495.50" y="351.00" font-size="12.5" text-anchor="middle" fill="#000" >1</text>
<line x1="536.52" y1="331.40" x2="536.52" y2="327.60" stroke="#3a3a3a" stroke-width="1" />
<text x="536.52" y="351.00" font-size="12.5" text-anchor="middle" fill="#000" >2</text>
<line x1="577.55" y1="331.40" x2="577.55" y2="327.60" stroke="#3a3a3a" stroke-width="1" />
<text x="577.55" y="351.00" font-size="12.5" text-anchor="middle" fill="#000" >4</text>
<line x1="618.58" y1="331.40" x2="618.58" y2="327.60" stroke="#3a3a3a" stroke-width="1" />
<text x="618.58" y="351.00" font-size="12.5" text-anchor="middle" fill="#000" >8</text>
<text x="659.60" y="351.00" font-size="12.5" text-anchor="middle" fill="#000" >16</text>
<polyline points="536.52,287.04 590.76,258.88 625.55,242.93" fill="none" stroke="#1e72c8" stroke-width="1.8" stroke-linejoin="round" />
<polyline points="536.52,288.04 590.76,260.13 625.55,246.92" fill="none" stroke="#18a0dc" stroke-width="1.8" stroke-linejoin="round" />
<polyline points="536.52,289.04 590.76,267.11 625.55,254.65" fill="none" stroke="#28d2dc" stroke-width="1.8" stroke-linejoin="round" />
<polyline points="536.52,293.52 590.76,274.58 625.55,265.61" fill="none" stroke="#1ccd9c" stroke-width="1.8" stroke-linejoin="round" />
<polyline points="536.52,299.00 590.76,284.05 625.55,277.07" fill="none" stroke="#80cc6c" stroke-width="1.8" stroke-linejoin="round" />
<rect x="495.50" y="366.50" width="164.10" height="123.90" fill="none" stroke="#3a3a3a" stroke-width="1.3"/>
<text x="484.70" y="494.70" font-size="12.5" text-anchor="end" fill="#000" >0</text>
<line x1="495.50" y1="465.62" x2="499.30" y2="465.62" stroke="#3a3a3a" stroke-width="1" />
<text x="484.70" y="469.92" font-size="12.5" text-anchor="end" fill="#000" >0.2</text>
<line x1="495.50" y1="440.84" x2="499.30" y2="440.84" stroke="#3a3a3a" stroke-width="1" />
<text x="484.70" y="445.14" font-size="12.5" text-anchor="end" fill="#000" >0.4</text>
<line x1="495.50" y1="416.06" x2="499.30" y2="416.06" stroke="#3a3a3a" stroke-width="1" />
<text x="484.70" y="420.36" font-size="12.5" text-anchor="end" fill="#000" >0.6</text>
<line x1="495.50" y1="391.28" x2="499.30" y2="391.28" stroke="#3a3a3a" stroke-width="1" />
<text x="484.70" y="395.58" font-size="12.5" text-anchor="end" fill="#000" >0.8</text>
<text x="484.70" y="370.80" font-size="12.5" text-anchor="end" fill="#000" >1</text>
<text x="495.50" y="510.00" font-size="12.5" text-anchor="middle" fill="#000" >1</text>
<line x1="528.32" y1="490.40" x2="528.32" y2="486.60" stroke="#3a3a3a" stroke-width="1" />
<text x="528.32" y="510.00" font-size="12.5" text-anchor="middle" fill="#000" >2</text>
<line x1="561.14" y1="490.40" x2="561.14" y2="486.60" stroke="#3a3a3a" stroke-width="1" />
<text x="561.14" y="510.00" font-size="12.5" text-anchor="middle" fill="#000" >4</text>
<line x1="593.96" y1="490.40" x2="593.96" y2="486.60" stroke="#3a3a3a" stroke-width="1" />
<text x="593.96" y="510.00" font-size="12.5" text-anchor="middle" fill="#000" >8</text>
<line x1="626.78" y1="490.40" x2="626.78" y2="486.60" stroke="#3a3a3a" stroke-width="1" />
<text x="626.78" y="510.00" font-size="12.5" text-anchor="middle" fill="#000" >16</text>
<text x="659.60" y="510.00" font-size="12.5" text-anchor="middle" fill="#000" >32</text>
<polyline points="528.32,475.53 571.71,452.73 599.54,432.04 629.65,412.84" fill="none" stroke="#1e72c8" stroke-width="1.8" stroke-linejoin="round" />
<polyline points="528.32,465.00 571.71,434.64 599.54,415.94 629.65,400.45" fill="none" stroke="#18a0dc" stroke-width="1.8" stroke-linejoin="round" />
<polyline points="528.32,452.73 571.71,424.24 599.54,408.38 629.65,398.84" fill="none" stroke="#28d2dc" stroke-width="1.8" stroke-linejoin="round" />
<polyline points="528.32,446.04 571.71,423.37 599.54,413.71 629.65,408.75" fill="none" stroke="#1ccd9c" stroke-width="1.8" stroke-linejoin="round" />
<polyline points="528.32,449.64 571.71,435.26 599.54,429.94 629.65,427.33" fill="none" stroke="#80cc6c" stroke-width="1.8" stroke-linejoin="round" />
<text x="65.60" y="223.30" font-size="12.8" text-anchor="start" fill="#000" >Background (&#181;M)</text>
<line x1="67.20" y1="235.20" x2="85.70" y2="235.20" stroke="#1e72c8" stroke-width="1.9" />
<text x="86.90" y="239.70" font-size="12.8" text-anchor="start" fill="#000" >0.5</text>
<line x1="67.20" y1="249.67" x2="85.70" y2="249.67" stroke="#18a0dc" stroke-width="1.9" />
<text x="86.90" y="254.17" font-size="12.8" text-anchor="start" fill="#000" >1</text>
<line x1="67.20" y1="264.14" x2="85.70" y2="264.14" stroke="#28d2dc" stroke-width="1.9" />
<text x="86.90" y="268.64" font-size="12.8" text-anchor="start" fill="#000" >2</text>
<line x1="67.20" y1="278.61" x2="85.70" y2="278.61" stroke="#1ccd9c" stroke-width="1.9" />
<text x="86.90" y="283.11" font-size="12.8" text-anchor="start" fill="#000" >4</text>
<line x1="67.20" y1="293.08" x2="85.70" y2="293.08" stroke="#80cc6c" stroke-width="1.9" />
<text x="86.90" y="297.58" font-size="12.8" text-anchor="start" fill="#000" >8</text>
<text x="68.80" y="382.80" font-size="12.8" text-anchor="start" fill="#000" >Background (nM)</text>
<line x1="68.40" y1="395.90" x2="86.90" y2="395.90" stroke="#1e72c8" stroke-width="1.9" />
<text x="87.80" y="400.40" font-size="12.8" text-anchor="start" fill="#000" >0.25</text>
<line x1="68.40" y1="409.83" x2="86.90" y2="409.83" stroke="#18a0dc" stroke-width="1.9" />
<text x="87.80" y="414.33" font-size="12.8" text-anchor="start" fill="#000" >0.5</text>
<line x1="68.40" y1="423.76" x2="86.90" y2="423.76" stroke="#28d2dc" stroke-width="1.9" />
<text x="87.80" y="428.26" font-size="12.8" text-anchor="start" fill="#000" >1</text>
<line x1="68.40" y1="437.69" x2="86.90" y2="437.69" stroke="#1ccd9c" stroke-width="1.9" />
<text x="87.80" y="442.19" font-size="12.8" text-anchor="start" fill="#000" >2</text>
<line x1="68.40" y1="451.62" x2="86.90" y2="451.62" stroke="#80cc6c" stroke-width="1.9" />
<text x="87.80" y="456.12" font-size="12.8" text-anchor="start" fill="#000" >4</text>
<text x="142.30" y="198.70" font-size="16.3" text-anchor="middle" fill="#000" >Experiment</text>
<text x="364.00" y="198.70" font-size="16.3" text-anchor="middle" fill="#000" >Prediction</text>
<text x="577.20" y="198.70" font-size="16.55" text-anchor="middle" fill="#000" >Prediction (1/2 background)</text>
<text x="8.20" y="199.60" font-size="16.5" text-anchor="start" fill="#000" font-weight="bold" >d</text>
<text x="237.00" y="199.70" font-size="16.5" text-anchor="start" fill="#000" font-weight="bold" >e</text>
<text x="453.00" y="199.50" font-size="16.5" text-anchor="start" fill="#000" font-weight="bold" >f</text>
<text x="12.00" y="353.80" font-size="16.3" text-anchor="middle" fill="#000" transform="rotate(-90 12 353.8)">Amplitude (-)</text>
<text x="364.50" y="533.00" font-size="16.3" text-anchor="middle" fill="#000" >Fold change (-)</text>
<text x="673.00" y="270.00" font-size="16.3" text-anchor="middle" fill="#000" transform="rotate(90 673 270)">Forskolin</text>
<text x="673.00" y="428.00" font-size="16.3" text-anchor="middle" fill="#000" transform="rotate(90 673 428)">Dexamethasone</text>
</svg></body></html>
